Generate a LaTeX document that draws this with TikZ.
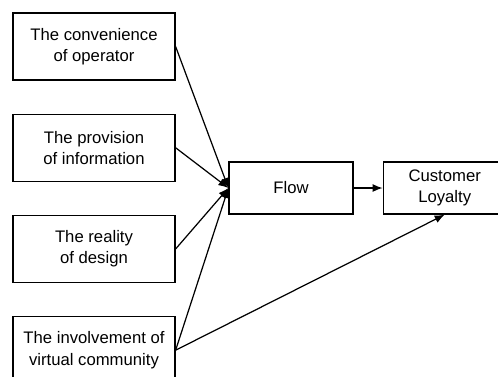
\documentclass[tikz,border=0pt]{standalone}
\usepackage{fontspec}
\setmainfont{Liberation Sans}
\usepackage{tikz}
\usetikzlibrary{positioning, arrows.meta}

\begin{document}
\begin{tikzpicture}[node distance=0.66cm, line width=0.7pt,
    factor/.style={draw, align=center, minimum width=3.24cm, minimum height=1.34cm,
      font=\fontsize{9.5}{12}\selectfont},
    result/.style={draw, align=center, minimum height=1.04cm,
      font=\fontsize{9.5}{12}\selectfont},
    link/.style={-{Latex[length=2mm, width=1.6mm]}}]
          \useasboundingbox (0,0) rectangle (9.96,-7.52);
          % the four factors, one under another
          \node[factor] (conv) at (1.88,-0.93) {The convenience\\of operator};
          \node[factor, below=of conv] (info) {The provision\\of information};
          \node[factor, below=of info] (design) {The reality\\of design};
          \node[factor, below=of design] (comm) {The involvement of\\virtual community};

          \node[result, minimum width=2.48cm] (flow) at (5.82,-3.76) {Flow};
          \node[result, minimum width=2.46cm, right=0.58cm of flow] (loyal) {Customer\\Loyalty};

          \draw[link] (conv.east) -- (flow.west);
          \draw[link] (info.east) -- (flow.west);
          \draw[link] (design.east) -- (flow.west);
          \draw[link] (comm.east) -- (flow.west);
          \draw[link] (comm.east) -- (loyal.south);
          \draw[link] (flow) -- (loyal);
        \end{tikzpicture}
\end{document}
